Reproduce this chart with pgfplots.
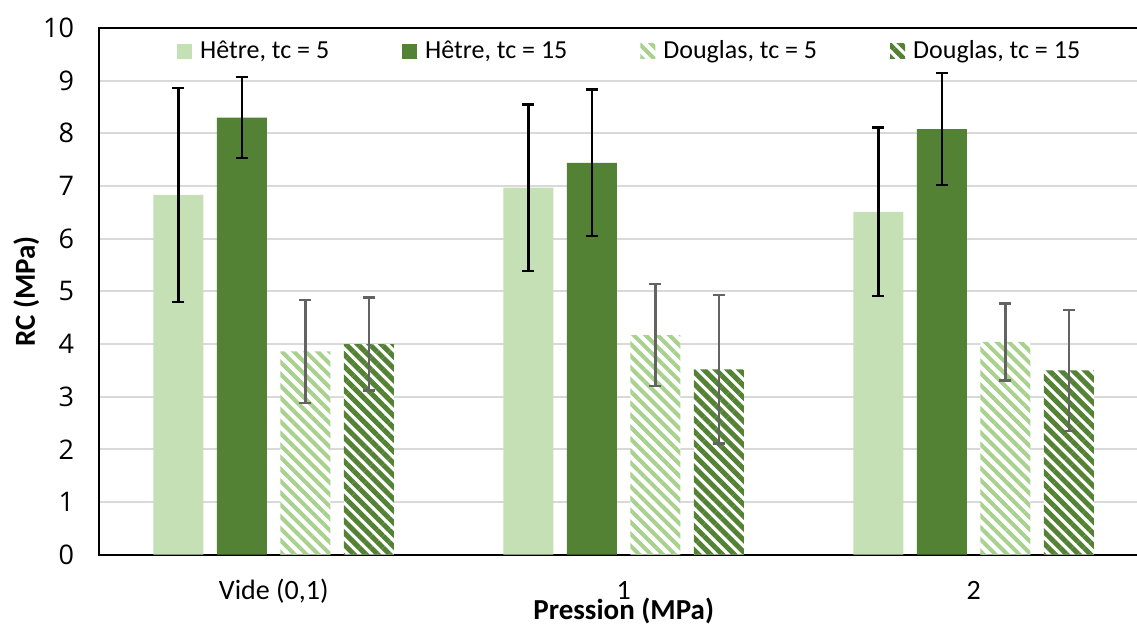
\documentclass[border=0pt]{standalone}
\usepackage{fontspec}
\setmainfont{Carlito}
\newfontfamily\numfont{Open Sans}
\usepackage{pgfplots}
\pgfplotsset{compat=1.18}
\usetikzlibrary{patterns.meta}

\definecolor{lightg}{HTML}{C5E0B4}
\definecolor{stripeg}{HTML}{A9D18E}
\definecolor{darkg}{HTML}{548235}
\definecolor{gridgray}{HTML}{D9D9D9}
\definecolor{errgray}{HTML}{636363}

\pgfplotsset{
  sq legend/.style={legend image code/.code={
    \path[##1, draw=none] (0pt,-3.75pt) rectangle (7.5pt,3.75pt);}},
}

\begin{document}
\begin{tikzpicture}
\useasboundingbox (0,0) rectangle (568.5pt,314pt);
\clip (0,0) rectangle (568.5pt,314pt);
\begin{axis}[
  at={(49.35pt,36.65pt)}, anchor=south west,
  scale only axis,
  width=525pt, height=263.35pt,
  xmin=-0.5, xmax=2.5,
  ymin=0, ymax=10,
  ytick={0,1,...,10},
  xtick={0,1,2},
  xticklabels={{Vide (0,1)},1,2},
  ymajorgrids,
  grid style={line width=1pt, gridgray},
  axis line style={line width=1pt, black},
  major tick length=0pt,
  /pgf/number format/assume math mode=true,
  ybar=6.75pt, bar width=25pt,
  xticklabel style={font=\fontsize{14}{17}\selectfont, anchor=base, yshift=-22.5pt},
  yticklabel style={font=\numfont\fontsize{13.5}{16}\selectfont, anchor=east, xshift=-8.8pt},
  xlabel={Pression (MPa)},
  xlabel style={font=\bfseries\fontsize{14.5}{17}\selectfont,
    at={([yshift=-32.5pt]axis description cs:0.5,0)}, anchor=base},
  ylabel={RC (MPa)},
  ylabel style={font=\bfseries\fontsize{14.5}{17}\selectfont,
    at={([xshift=-31.85pt]axis description cs:0,0.5)}, anchor=base},
  legend columns=4,
  legend cell align=left,
  legend style={draw=none, fill=none, at={(0.5,1)}, anchor=center,
    yshift=-11.5pt, xshift=3.5pt, font=\fontsize{13}{16}\selectfont,
    /tikz/every odd column/.append style={column sep=2pt},
    /tikz/every even column/.append style={column sep=34.5pt}},
  error bars/y dir=both,
  error bars/y explicit,
]

% Hetre, tc = 5
\addplot[fill=lightg, draw=none, sq legend,
  error bars/error bar style={line width=1.2pt, black},
  error bars/error mark options={rotate=90, mark size=3pt, line width=1.2pt, black}]
coordinates {(0,6.83) +- (0,2.03) (1,6.97) +- (0,1.58) (2,6.51) +- (0,1.60)};
\addlegendentry{Hêtre, tc = 5}

% Hetre, tc = 15
\addplot[fill=darkg, draw=none, sq legend,
  error bars/error bar style={line width=1.2pt, black},
  error bars/error mark options={rotate=90, mark size=3pt, line width=1.2pt, black}]
coordinates {(0,8.30) +- (0,0.77) (1,7.44) +- (0,1.39) (2,8.08) +- (0,1.06)};
\addlegendentry{Hêtre, tc = 15}

% Douglas, tc = 5
\addplot[fill=white, draw=none, sq legend,
  postaction={pattern={Lines[angle=-45,distance=4.2pt,line width=2pt]}, pattern color=stripeg},
  error bars/error bar style={line width=1.2pt, errgray},
  error bars/error mark options={rotate=90, mark size=3pt, line width=1.2pt, errgray}]
coordinates {(0,3.86) +- (0,0.98) (1,4.17) +- (0,0.97) (2,4.04) +- (0,0.73)};
\addlegendentry{Douglas, tc = 5}

% Douglas, tc = 15
\addplot[fill=white, draw=none, sq legend,
  postaction={pattern={Lines[angle=-45,distance=4.2pt,line width=2.5pt]}, pattern color=darkg},
  error bars/error bar style={line width=1.2pt, errgray},
  error bars/error mark options={rotate=90, mark size=3pt, line width=1.2pt, errgray}]
coordinates {(0,4.00) +- (0,0.88) (1,3.52) +- (0,1.41) (2,3.50) +- (0,1.15)};
\addlegendentry{Douglas, tc = 15}

\end{axis}
\end{tikzpicture}
\end{document}
